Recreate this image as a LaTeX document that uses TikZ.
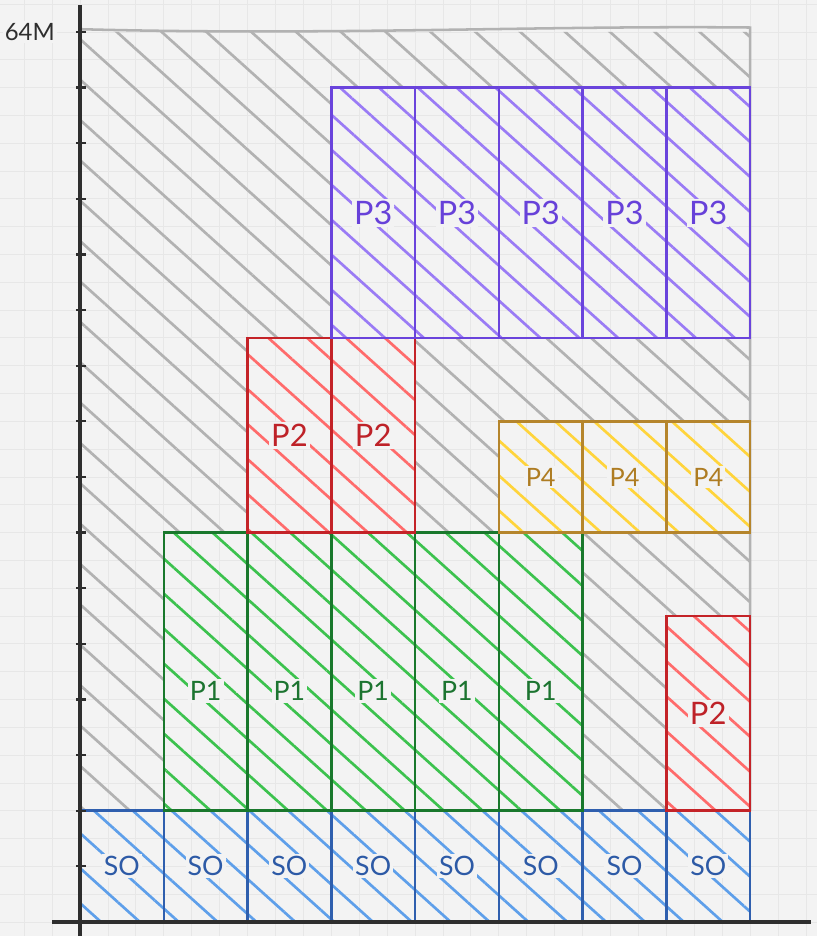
\documentclass[tikz,border=0pt]{standalone}
\usepackage{fontspec}
\setmainfont{Lato}
\usetikzlibrary{patterns.meta}
\definecolor{paper}{HTML}{F3F3F3}
\definecolor{gridgray}{HTML}{E7E7E7}
\definecolor{axisink}{HTML}{2E2E2E}
\definecolor{freehatch}{HTML}{B2B2B2}
\definecolor{soline}{HTML}{2F5FAE}
\definecolor{sohatch}{HTML}{5E9FEA}
\definecolor{sotxt}{HTML}{2D5AA6}
\definecolor{poneline}{HTML}{19782C}
\definecolor{ponehatch}{HTML}{3CC24E}
\definecolor{ponetxt}{HTML}{1C7430}
\definecolor{ptwoline}{HTML}{C42328}
\definecolor{ptwohatch}{HTML}{FF6B6B}
\definecolor{ptwotxt}{HTML}{BE2228}
\definecolor{pthreeline}{HTML}{6A44DC}
\definecolor{pthreehatch}{HTML}{9A7BF5}
\definecolor{pthreetxt}{HTML}{6741D9}
\definecolor{pfourline}{HTML}{B5852C}
\definecolor{pfourhatch}{HTML}{FFD43B}
\definecolor{pfourtxt}{HTML}{AE7C22}

\tikzset{
  cell/.style={draw=#1line, line width=1.8pt, pattern color=#1hatch,
               pattern={Lines[angle=-42,distance=6.5mm,line width=1.9pt]}},
  lbl/.style={fill=paper, inner sep=1.5pt, font=\fontsize{#1}{#1}\selectfont},
  lbl/.default=19,
  axtick/.style={draw=axisink, line width=1.6pt}
}

\begin{document}
\begin{tikzpicture}[x=2.094cm, y=1.3906cm]
  \useasboundingbox[fill=paper] (-0.9552,-0.2517) rectangle (8.8,16.575);
  \draw[gridgray, line width=0.6pt, xstep=0.33333, ystep=0.5] (-0.9552,-0.2517) grid (8.8,16.575);

  % free space, hatched grey around the blocks
  \fill[even odd rule, pattern color=freehatch,
        pattern={Lines[angle=-42,distance=7.5mm,line width=1.9pt]}]
    (0,2) rectangle (8,16) (1,2) rectangle (6,7) (2,7) rectangle (4,10.5)
    (3,10.5) rectangle (8,15) (5,7) rectangle (8,9) (7,2) rectangle (8,5.5);
  \draw[freehatch, line width=1.8pt, line cap=round]
    (0,16.05) .. controls (3,15.93) and (5.5,16.12) .. (8,16.08) -- (8,2);

  % SO row
  \foreach \i in {0,...,7}{
    \draw[cell=so] (\i,0) rectangle ++(1,2);
    \node[lbl, text=sotxt] (so\i) at (\i+0.5,1) {SO};
  }
  % P1
  \foreach \i in {1,...,5}{
    \draw[cell=pone] (\i,2) rectangle ++(1,5);
    \node[lbl, text=ponetxt] (pone\i) at (\i+0.5,4.15) {P1};
  }
  % P2
  \foreach \i in {2,3}{
    \draw[cell=ptwo] (\i,7) rectangle ++(1,3.5);
    \node[lbl=22, text=ptwotxt] (ptwo\i) at (\i+0.5,8.75) {P2};
  }
  \draw[cell=ptwo] (7,2) rectangle ++(1,3.5);
  \node[lbl=22, text=ptwotxt] (ptwo7) at (7.5,3.75) {P2};
  % P4
  \foreach \i in {5,6,7}{
    \draw[cell=pfour] (\i,7) rectangle ++(1,2);
    \node[lbl=18, text=pfourtxt] (pfour\i) at (\i+0.5,8) {P4};
  }
  % P3
  \foreach \i in {3,...,7}{
    \draw[cell=pthree] (\i,10.5) rectangle ++(1,4.5);
    \node[lbl=23, text=pthreetxt] (pthree\i) at (\i+0.5,12.75) {P3};
  }

  % axes
  \draw[axisink, line width=2.2pt] (0,-0.26) -- (0,16.49);
  \draw[axisink, line width=2.2pt] (-0.334,0) -- (8.73,0);
  \foreach \k in {1,...,16}
    \draw[axtick] (-0.05,\k) -- (0.07,\k);
  \node[lbl=17, text=axisink] (topmark) at (-0.6,16) {64M};
\end{tikzpicture}
\end{document}
